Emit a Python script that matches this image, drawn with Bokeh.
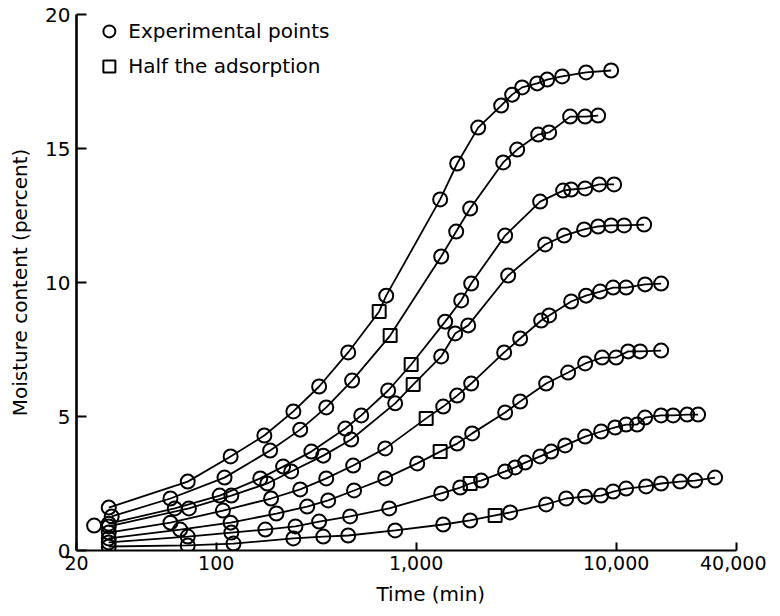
from bokeh.plotting import figure
from bokeh.models import FixedTicker, NumeralTickFormatter, Range1d, Title
from bokeh.core.properties import value
from bokeh.embed import file_html
from bokeh.resources import INLINE

# ---- data (time in min, moisture content in percent) ----
t_a = [29, 72, 118, 174, 243, 327, 457, 708, 1318, 1603, 2042, 2661, 3020, 3388, 4027, 4519, 5370, 7079, 9441]
m_a = [1.60, 2.57, 3.51, 4.29, 5.19, 6.12, 7.39, 9.51, 13.10, 14.44, 15.78, 16.60, 17.01, 17.28, 17.43, 17.57, 17.69, 17.84, 17.91]

t_b = [30, 59, 110, 186, 263, 355, 478, 1334, 1585, 1862, 2723, 3199, 4074, 4624, 5888, 6998, 8128]
m_b = [1.27, 1.94, 2.72, 3.73, 4.51, 5.34, 6.34, 10.97, 11.90, 12.76, 14.48, 14.96, 15.52, 15.60, 16.19, 16.19, 16.23]

t_c = [29, 62, 104, 166, 216, 299, 442, 531, 724, 1396, 1679, 1884, 2786, 4168, 5433, 5957, 6998, 8222, 9772]
m_c = [1.00, 1.57, 2.05, 2.69, 3.13, 3.69, 4.55, 5.04, 5.97, 8.54, 9.33, 9.96, 11.75, 13.02, 13.43, 13.47, 13.51, 13.66, 13.66]

t_d = [29, 73, 119, 180, 237, 343, 473, 785, 1334, 1567, 1820, 2884, 4416, 5495, 6918, 8128, 9441, 10965, 13804]
m_d = [0.90, 1.57, 2.05, 2.50, 2.95, 3.54, 4.14, 5.49, 7.24, 8.10, 8.40, 10.26, 11.42, 11.75, 11.98, 12.09, 12.13, 12.13, 12.16]

t_e = [29, 59, 108, 188, 263, 355, 484, 700, 1365, 1603, 1884, 2754, 3311, 4217, 4624, 5957, 7079, 8318, 9661, 11220, 13964, 16788]
m_e = [0.67, 1.04, 1.49, 1.94, 2.28, 2.69, 3.17, 3.81, 5.37, 5.78, 6.23, 7.39, 7.91, 8.58, 8.77, 9.29, 9.51, 9.66, 9.81, 9.81, 9.93, 9.96]

t_f = [29, 66, 118, 200, 285, 363, 489, 700, 1012, 1603, 1905, 2786, 3311, 4467, 5754, 6998, 8511, 10000, 11482, 13183, 16788]
m_f = [0.45, 0.78, 1.04, 1.38, 1.64, 1.87, 2.24, 2.69, 3.25, 3.99, 4.37, 5.15, 5.56, 6.23, 6.64, 6.98, 7.20, 7.20, 7.43, 7.43, 7.46]

t_g = [29, 72, 119, 176, 249, 327, 467, 733, 1334, 1660, 2113, 2786, 3126, 3508, 4168, 4732, 5559, 6998, 8414, 9886, 11220, 12735, 13964, 16788, 19275, 22646, 25704]
m_g = [0.30, 0.52, 0.67, 0.78, 0.90, 1.08, 1.27, 1.57, 2.13, 2.35, 2.61, 2.95, 3.10, 3.28, 3.51, 3.69, 3.92, 4.25, 4.44, 4.59, 4.70, 4.70, 4.96, 5.04, 5.04, 5.07, 5.07]

t_h = [29, 72, 122, 243, 343, 457, 785, 1365, 1862, 2951, 4467, 5623, 6998, 8414, 9661, 11220, 14125, 16788, 20893, 24831, 31261]
m_h = [0.15, 0.19, 0.26, 0.45, 0.52, 0.56, 0.75, 0.97, 1.12, 1.42, 1.72, 1.94, 2.01, 2.05, 2.20, 2.31, 2.39, 2.50, 2.57, 2.61, 2.72]

# half-the-adsorption points, one per curve (a..h)
sq_t = [653, 741, 944, 966, 1122, 1318, 1862, 2483]
sq_m = [8.92, 8.02, 6.94, 6.19, 4.93, 3.69, 2.50, 1.31]

# isolated early point
extra_t = [24.5]
extra_m = [0.93]

x_ticks = [20, 100, 1000, 10000, 40000]
y_ticks = [0, 5, 10, 15, 20]

FONT = "DejaVu Sans"

p = figure(x_axis_type="log", x_range=Range1d(20, 40000), y_range=Range1d(0, 20),
           frame_width=660, frame_height=536,
           min_border_left=76, min_border_top=14, min_border_right=30, min_border_bottom=4,
           output_backend="svg", toolbar_location=None)

p.outline_line_color = None
p.xgrid.visible = False
p.ygrid.visible = False
p.background_fill_color = "white"

curves = [(t_a, m_a), (t_b, m_b), (t_c, m_c), (t_d, m_d),
          (t_e, m_e), (t_f, m_f), (t_g, m_g), (t_h, m_h)]

for i, (tt, mm) in enumerate(curves):
    pts = sorted(list(zip(tt, mm)) + [(sq_t[i], sq_m[i])])
    p.line([q[0] for q in pts], [q[1] for q in pts], line_color="black", line_width=1.8)

for tt, mm in curves:
    p.scatter(tt, mm, marker="circle", size=14, fill_color=None, line_color="black", line_width=2)
p.scatter(extra_t, extra_m, marker="circle", size=14, fill_color=None, line_color="black", line_width=2)
p.scatter(sq_t, sq_m, marker="square", size=13, fill_color=None, line_color="black", line_width=2)

# legend (drawn manually, top-left)
p.scatter([29.2], [19.37], marker="circle", size=12, fill_color=None, line_color="black", line_width=2)
p.scatter([29.2], [18.06], marker="square", size=12, fill_color=None, line_color="black", line_width=2)
p.text([36.3], [19.37], text=["Experimental points"], text_font=value(FONT), text_font_size="20px",
       text_align="left", text_baseline="middle", text_color="black")
p.text([36.3], [18.06], text=["Half the adsorption"], text_font=value(FONT), text_font_size="20px",
       text_align="left", text_baseline="middle", text_color="black")

# axes
p.xaxis.ticker = FixedTicker(ticks=x_ticks, minor_ticks=[])
p.xaxis.formatter = NumeralTickFormatter(format="0,0")
p.yaxis.ticker = FixedTicker(ticks=y_ticks, minor_ticks=[])

for ax in (p.xaxis[0], p.yaxis[0]):
    ax.axis_line_color = "black"
    ax.major_tick_line_color = "black"
    ax.major_tick_line_width = 2
    ax.major_tick_out = 0
    ax.minor_tick_line_color = None
    ax.major_label_text_font = FONT
    ax.major_label_text_color = "black"
    ax.axis_label_text_font = FONT
    ax.axis_label_text_font_style = "normal"
    ax.axis_label_text_color = "black"

p.xaxis.axis_line_width = 2
p.xaxis.major_tick_in = 8
p.xaxis.major_label_text_font_size = "19px"
p.xaxis.major_label_standoff = 5

p.yaxis.axis_line_width = 2.6
p.yaxis.major_tick_in = 10
p.yaxis.major_label_text_font_size = "20px"
p.yaxis.major_label_standoff = 6
p.yaxis.axis_label = "Moisture content (percent)"
p.yaxis.axis_label_text_font_size = "20px"
p.yaxis.axis_label_standoff = 10

xlabel = Title(text="Time (min)", align="left", offset=300, standoff=14,
               text_font=FONT, text_font_size="20px", text_font_style="normal", text_color="black")
p.add_layout(xlabel, "below")

open("out.html", "w").write(file_html(p, INLINE))
